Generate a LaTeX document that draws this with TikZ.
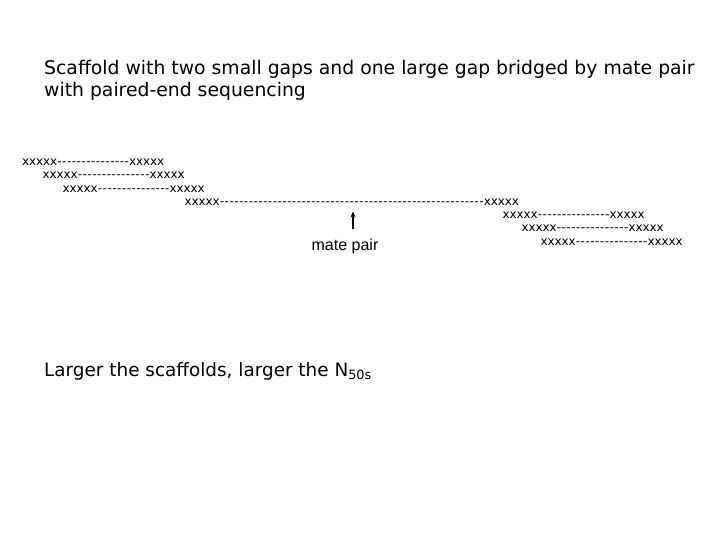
\documentclass[tikz,border=0pt]{standalone}
\usepackage{fontspec}
\setmainfont{DejaVu Sans}
\newfontfamily\arialfont{Liberation Sans}
\usetikzlibrary{arrows.meta}
\newcount\hycnt
\newcommand\xbox{\makebox[7pt]{x}}
\newcommand\xfive{\xbox\xbox\xbox\xbox\xbox}
\newcommand\hyrun[1]{\hycnt=0 \loop\ifnum\hycnt<#1 \makebox[4.8pt]{-}\advance\hycnt by 1 \repeat}
\newcommand\readrow[1]{\xfive\hyrun{#1}\xfive}
\tikzset{
  titletext/.style={anchor=base west, inner sep=0pt, font=\fontsize{18.8}{22}\selectfont},
  bottomtext/.style={anchor=base west, inner sep=0pt, font=\fontsize{18.4}{22}\selectfont},
  readtext/.style={anchor=base west, inner sep=0pt, font=\fontsize{12}{14}\selectfont},
  labeltext/.style={anchor=base, inner sep=0pt, font=\arialfont\fontsize{16}{19}\selectfont},
  pointer/.style={-{Stealth[length=6pt,width=5pt]}, line width=1.4pt}
}
\begin{document}
\begin{tikzpicture}[x=1pt,y=-1pt]
\useasboundingbox (0,0) rectangle (720,540);
\node[titletext] (t1) at (44,75) {Scaffold with two small gaps and one large gap bridged by mate pair};
\node[titletext] (t2) at (44,96.7) {with paired-end sequencing};
\node[readtext] (r1) at (22,165.5) {\readrow{15}};
\node[readtext] (r2) at (42.5,179) {\readrow{15}};
\node[readtext] (r3) at (62.5,192.5) {\readrow{15}};
\node[readtext] (r4) at (184.5,205.5) {\readrow{55}};
\node[readtext] (r5) at (502.5,218.5) {\readrow{15}};
\node[readtext] (r6) at (521.5,232) {\readrow{15}};
\node[readtext] (r7) at (540.5,245.5) {\readrow{15}};
\node[labeltext] (mp) at (345,250) {mate pair};
\coordinate (atop) at (353,211.5);
\coordinate (abot) at (353,229.5);
\draw[pointer] (abot) -- (atop);
\node[bottomtext] (bt) at (44,376) {Larger the scaffolds, larger the N\textsubscript{50s}};
\end{tikzpicture}
\end{document}
